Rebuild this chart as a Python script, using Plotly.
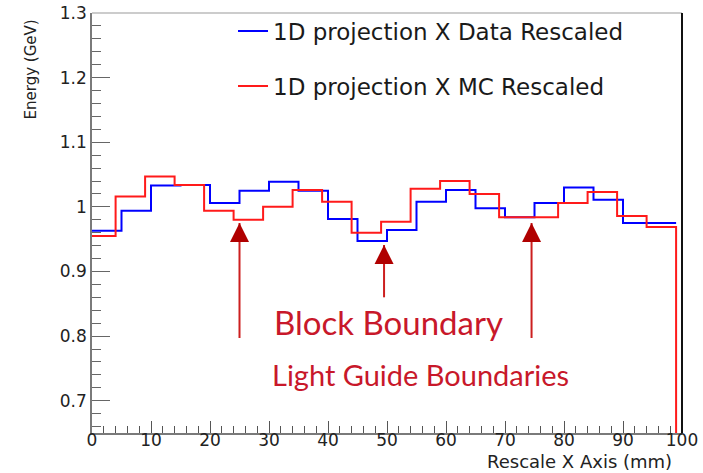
import plotly.graph_objects as go

# ---- data ----
data_edges = [0, 5, 10, 15, 20, 25, 30, 35, 40, 45, 50, 55, 60, 65, 70, 75, 80, 85, 90, 95, 99]
data_vals = [0.963, 0.994, 1.033, 1.034, 1.006, 1.025, 1.039, 1.025, 0.981, 0.947,
             0.964, 1.008, 1.026, 0.998, 0.984, 1.006, 1.030, 1.011, 0.975, 0.975]

mc_edges = [0, 4, 9, 14, 19, 24, 29, 34, 39, 44, 49, 54, 59, 64, 69, 74, 79, 84, 89, 94, 99, 100]
mc_vals = [0.955, 1.016, 1.047, 1.034, 0.994, 0.980, 1.000, 1.026, 1.008, 0.960,
           0.977, 1.028, 1.040, 1.020, 0.984, 0.984, 1.006, 1.023, 0.986, 0.969, 0.0]

arrow_x = [25, 49.5, 74.5]
arrow_tip = [0.975, 0.941, 0.975]
arrow_tail = [0.797, 0.860, 0.797]

FONT = "DejaVu Sans"
TXT = "#1a1a1a"
RED_TXT = "#c8182a"

fig = go.Figure()

fig.add_trace(go.Scatter(
    x=data_edges, y=data_vals + [data_vals[-1]], mode="lines", line_shape="hv",
    line=dict(color="#0000ff", width=2), name="1D projection X Data Rescaled",
    legendgroup="a"))
fig.add_trace(go.Scatter(
    x=mc_edges, y=mc_vals + [mc_vals[-1]], mode="lines", line_shape="hv",
    line=dict(color="#ff1a1a", width=2), name="1D projection X MC Rescaled",
    legendgroup="b"))

# arrows: shafts and heads
for ax_, tip, tail in zip(arrow_x, arrow_tip, arrow_tail):
    fig.add_trace(go.Scatter(x=[ax_, ax_], y=[tail, tip], mode="lines",
                             line=dict(color="#cc1f1f", width=2),
                             showlegend=False, hoverinfo="skip"))
fig.add_trace(go.Scatter(x=arrow_x, y=arrow_tip, mode="markers",
                         marker=dict(symbol="arrow-up", size=19, color="#b00000",
                                     line=dict(width=0)),
                         showlegend=False, hoverinfo="skip"))

W, H = 703, 473
ML, MR, MT, MB = 92, 21, 13, 40

fig.update_layout(
    width=W, height=H,
    margin=dict(l=ML, r=MR, t=MT, b=MB, autoexpand=False),
    paper_bgcolor="white", plot_bgcolor="white",
    font=dict(family=FONT, color=TXT),
    showlegend=True,
    legend=dict(x=0.239, y=1.008, xanchor="left", yanchor="top",
                bgcolor="rgba(0,0,0,0)", font=dict(size=23, family=FONT, color=TXT),
                tracegroupgap=22),
    xaxis=dict(range=[0, 100], showgrid=False, zeroline=False, automargin=False,
               showline=True, linecolor="#7a7a7a", linewidth=1.5,
               ticks="inside", ticklen=12, tickcolor="#555", tickwidth=1,
               dtick=10, tick0=0, ticklabelstandoff=-9,
               tickfont=dict(size=17, family=FONT, color="#222"),
               minor=dict(ticks="inside", ticklen=7, dtick=2, tickcolor="#555", tickwidth=1)),
    yaxis=dict(range=[0.65, 1.3], showgrid=False, zeroline=False, automargin=False,
               showline=True, linecolor="#7a7a7a", linewidth=1.5,
               ticks="inside", ticklen=18, tickcolor="#666", tickwidth=1,
               dtick=0.1, tick0=0.7,
               tickfont=dict(size=17, family=FONT, color="#222"),
               minor=dict(ticks="inside", ticklen=9, dtick=0.02, tickcolor="#666", tickwidth=1)),
)

# frame: top gray, right black
fig.add_shape(type="line", xref="paper", yref="paper", x0=0, x1=1, y0=1, y1=1,
              line=dict(color="#999", width=1))
fig.add_shape(type="line", xref="paper", yref="paper", x0=1, x1=1, y0=0, y1=1,
              line=dict(color="#111", width=2))

# axis titles (ROOT style, aligned to axis end)
fig.add_annotation(text="Rescale X Axis (mm)", xref="paper", yref="paper",
                   x=0.985, y=-0.069, xanchor="right", yanchor="middle", showarrow=False,
                   borderpad=0, font=dict(size=18, family=FONT, color="#222"))
fig.add_annotation(text="Energy (GeV)", xref="paper", yref="paper",
                   x=-0.103, y=0.99, xanchor="center", yanchor="top", textangle=-90,
                   showarrow=False, font=dict(size=15, family=FONT, color="#222"))

# labels
fig.add_annotation(text="Block Boundary", x=50.3, y=0.822, showarrow=False,
                   font=dict(size=33, family="Lato", color=RED_TXT))
fig.add_annotation(text="Light Guide Boundaries", x=55.6, y=0.741, showarrow=False,
                   font=dict(size=29, family="Lato", color=RED_TXT))

fig.write_html("out.html")
